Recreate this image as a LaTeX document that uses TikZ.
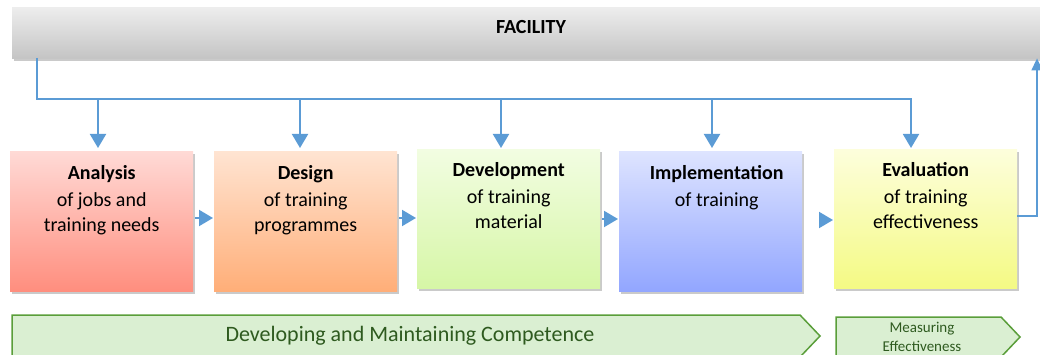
\documentclass[tikz,border=0pt]{standalone}
\usepackage{fontspec}
\setmainfont{Carlito}
\usetikzlibrary{arrows.meta,shadows}
\definecolor{ablue}{HTML}{5B9BD5}
\definecolor{gfill}{HTML}{DAEFD2}
\definecolor{gline}{HTML}{5A9E3A}
\definecolor{gtext}{HTML}{2E5A1F}
\begin{document}
\begin{tikzpicture}[x=1pt,y=-1pt,
  stage/.style={draw=none, minimum width=183pt, minimum height=140pt, anchor=north west,
    drop shadow={shadow xshift=2pt,shadow yshift=-3pt,opacity=0.35,fill=black!60}},
  stagetext/.style={anchor=north, align=center, inner sep=0pt,
    font=\fontsize{20}{24.5}\selectfont},
  conn/.style={draw=ablue, line width=1.5pt},
  arr/.style={draw=ablue, line width=2pt, -{Triangle[width=16pt,length=14pt]}, ablue},
  sarr/.style={draw=ablue, line width=2pt, -{Triangle[width=16pt,length=14pt]}, ablue},
  chev/.style={draw=gline, line width=1.5pt, fill=gfill},
]
\useasboundingbox (0,0) rectangle (1040,355);
% facility bar
\node[draw=none, anchor=north west, minimum width=1040pt, minimum height=51pt,
  top color=black!7, bottom color=black!23,
  drop shadow={shadow xshift=2pt,shadow yshift=-3pt,opacity=0.35,fill=black!60}] (fac) at (12,7) {};
\node[font=\bfseries\fontsize{20}{22}\selectfont] (factext) at (531,27) {FACILITY};

% stages
\node[stage, top color={rgb,255:red,255;green,218;blue,214}, bottom color={rgb,255:red,255;green,142;blue,126}] (a) at (10,151) {};
\node[stage, top color={rgb,255:red,255;green,228;blue,210}, bottom color={rgb,255:red,255;green,174;blue,120}] (d) at (214,151) {};
\node[stage, minimum height=139pt, top color={rgb,255:red,242;green,253;blue,226}, bottom color={rgb,255:red,214;green,246;blue,166}] (dv) at (417,149) {};
\node[stage, top color={rgb,255:red,222;green,228;blue,255}, bottom color={rgb,255:red,146;green,166;blue,255}] (im) at (619,151) {};
\node[stage, minimum height=139pt, top color={rgb,255:red,253;green,254;blue,220}, bottom color={rgb,255:red,244;green,250;blue,132}] (ev) at (834,149) {};

\node[stagetext] (ta) at ([yshift=-14pt]a.north) {\textbf{Analysis}\\[3pt]of jobs and\\training needs};
\node[stagetext] (td) at ([yshift=-14pt]d.north) {\textbf{Design}\\[3pt]of training\\programmes};
\node[stagetext] (tdv) at ([yshift=-13pt]dv.north) {\textbf{Development}\\[3pt]of training\\material};
\node[stagetext] (tim) at ([xshift=6pt,yshift=-14pt]im.north) {\textbf{Implementation}\\[3pt]of training};
\node[stagetext] (tev) at ([yshift=-13pt]ev.north) {\textbf{Evaluation}\\[3pt]of training\\effectiveness};

% distribution bus
\coordinate (s0) at (37,58);
\coordinate (b0) at (37,99);
\coordinate (b1) at (98,99);
\coordinate (b2) at (300,99);
\coordinate (b3) at (501,99);
\coordinate (b4) at (712,99);
\coordinate (b5) at (911,99);
\draw[conn] (s0) -- (b0) -- ([xshift=1pt]b5);
\draw[arr, shorten >=3pt] (b1) -- (a.north -| b1);
\draw[arr, shorten >=3pt] (b2) -- (d.north -| b2);
\draw[arr, shorten >=1pt] (b3) -- (dv.north -| b3);
\draw[arr, shorten >=3pt] (b4) -- (im.north -| b4);
\draw[arr, shorten >=1pt] (b5) -- (ev.north -| b5);

% stage to stage arrows
\coordinate (h1) at (0,218);
\coordinate (h2) at (0,218);
\coordinate (h3) at (0,219);
\coordinate (h4) at (0,220);
\draw[sarr] ([xshift=2pt]a.east |- h1) -- ([xshift=-1pt]d.west |- h1);
\draw[sarr] ([xshift=2pt]d.east |- h2) -- ([xshift=-1pt]dv.west |- h2);
\draw[sarr] ([xshift=2pt]dv.east |- h3) -- ([xshift=-1pt]im.west |- h3);
\draw[sarr] ([xshift=17pt]im.east |- h4) -- ([xshift=-1pt]ev.west |- h4);

% return to facility
\coordinate (r1) at (1037,216);
\draw[conn, -{Triangle[width=11pt,length=12pt]}, ablue] (ev.east |- r1) -- (r1) -- (r1 |- fac.south);

% chevrons
\path[chev] (12,315) -- (800,315) -- (820,336) -- (800,357) -- (12,357) -- cycle;
\node[font=\fontsize{22}{24}\selectfont, text=gtext] (dmc) at (410,336) {Developing and Maintaining Competence};
\path[chev] (836,317) -- (1001,317) -- (1020,337) -- (1001,357) -- (836,357) -- cycle;
\node[font=\fontsize{15}{19}\selectfont, text=gtext, align=center] (me) at (922,336.5) {Measuring\\Effectiveness};
\end{tikzpicture}
\end{document}
